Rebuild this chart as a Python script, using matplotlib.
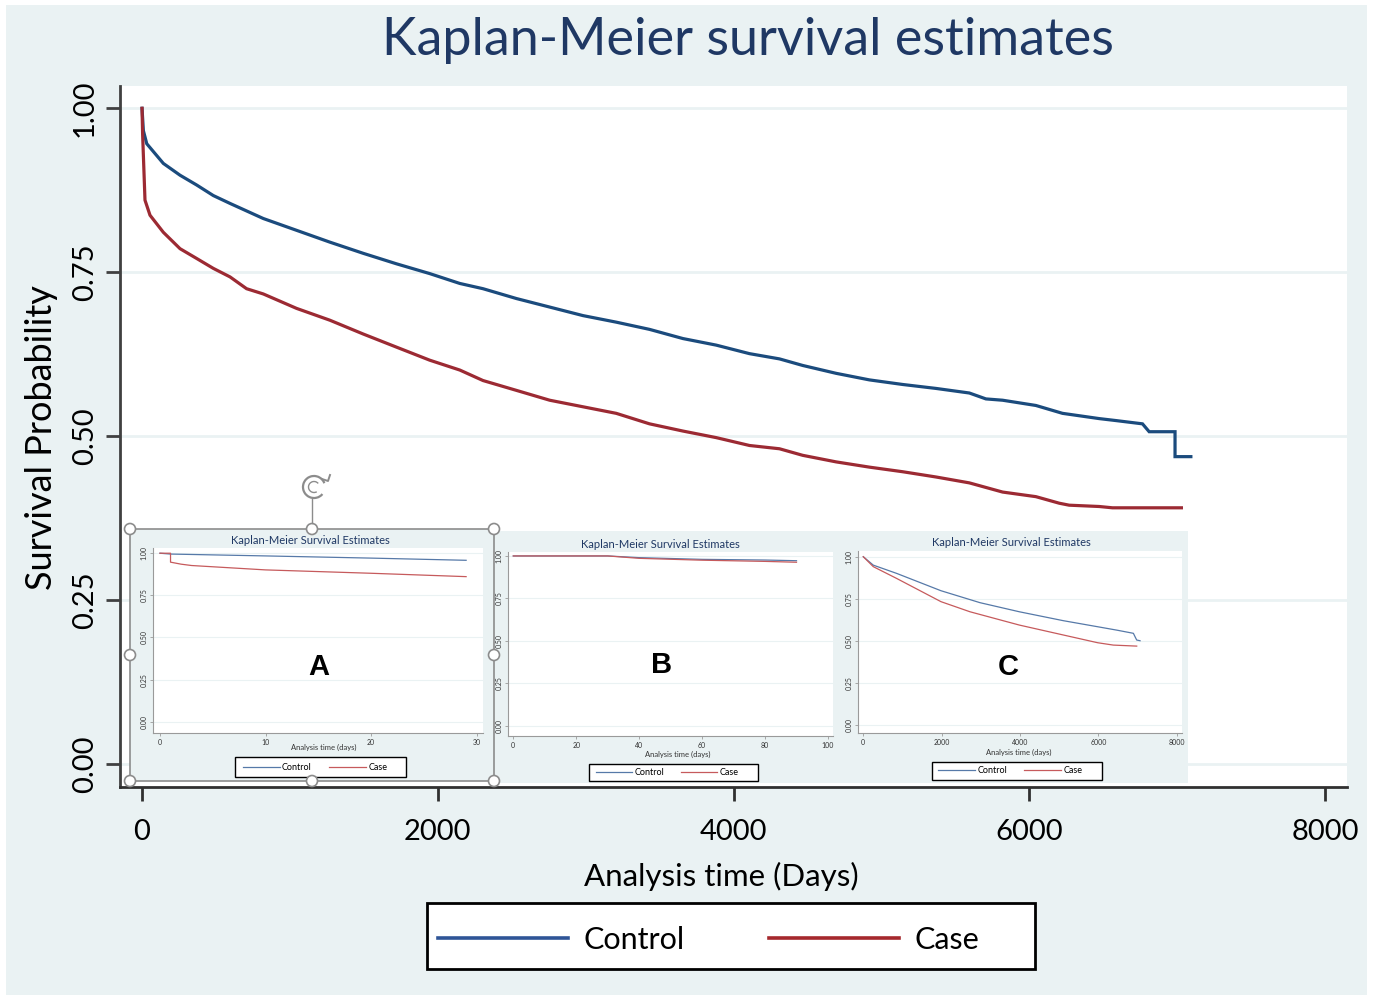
import matplotlib
matplotlib.use("Agg")
import matplotlib.pyplot as plt
from matplotlib.patches import Rectangle, Circle, Arc
from matplotlib.lines import Line2D

plt.rcParams['font.family'] = ['Lato', 'DejaVu Sans']

# ---------------- data ----------------
control_days = [0, 9, 32, 144, 257, 370, 482, 595, 820, 1045, 1270, 1495, 1720, 1946,
                2149, 2306, 2532, 2757, 2982, 3207, 3432, 3658, 3883, 4108, 4311, 4468,
                4694, 4919, 5144, 5369, 5595, 5707, 5820, 6045, 6225, 6473, 6586, 6766,
                6811, 6986, 6986, 7093]
control_surv = [1.0, 0.966, 0.946, 0.916, 0.898, 0.883, 0.867, 0.855, 0.832, 0.814,
                0.796, 0.779, 0.763, 0.748, 0.733, 0.725, 0.710, 0.697, 0.684, 0.674,
                0.663, 0.649, 0.639, 0.626, 0.618, 0.608, 0.596, 0.586, 0.579, 0.573,
                0.566, 0.557, 0.555, 0.547, 0.535, 0.527, 0.524, 0.519, 0.507, 0.507,
                0.469, 0.469]
case_days = [0, 4, 20, 54, 144, 257, 370, 482, 595, 707, 820, 1045, 1270, 1495, 1720,
             1946, 2149, 2306, 2532, 2757, 2982, 3207, 3432, 3658, 3883, 4108, 4311,
             4468, 4694, 4919, 5144, 5369, 5595, 5820, 6045, 6203, 6270, 6473, 6563, 7029]
case_surv = [1.0, 0.96, 0.860, 0.837, 0.811, 0.786, 0.771, 0.756, 0.743, 0.725, 0.717,
             0.695, 0.677, 0.656, 0.636, 0.616, 0.601, 0.585, 0.570, 0.555, 0.545,
             0.535, 0.519, 0.508, 0.498, 0.486, 0.481, 0.471, 0.461, 0.453, 0.446,
             0.438, 0.429, 0.415, 0.408, 0.398, 0.395, 0.393, 0.391, 0.391]

# inset A (first 30 days)
a_control_days = [0, 1, 10, 20, 29]
a_control_surv = [1.0, 0.995, 0.984, 0.971, 0.958]
a_case_days = [0, 1, 1, 2, 3, 10, 20, 29]
a_case_surv = [1.0, 1.0, 0.947, 0.935, 0.927, 0.901, 0.881, 0.861]

# inset B (up to 90 days)
b_days = [0, 30, 40, 60, 80, 90]
b_control_surv = [1.0, 1.0, 0.990, 0.980, 0.976, 0.972]
b_case_surv = [1.0, 1.0, 0.986, 0.975, 0.968, 0.963]

# inset C (full follow-up)
c_control_days = [0, 255, 851, 1983, 2979, 3983, 5106, 5983, 6468, 6894, 6936, 6979, 7064]
c_control_surv = [1.0, 0.950, 0.901, 0.798, 0.727, 0.673, 0.620, 0.584, 0.564, 0.545,
                  0.525, 0.505, 0.501]
c_case_days = [0, 255, 851, 1983, 2723, 3983, 5106, 5983, 6383, 6979]
c_case_surv = [1.0, 0.941, 0.871, 0.733, 0.673, 0.594, 0.535, 0.489, 0.475, 0.469]

y_ticks = [0.0, 0.25, 0.5, 0.75, 1.0]
y_ticklabels = ["0.00", "0.25", "0.50", "0.75", "1.00"]
main_x_ticks = [0, 2000, 4000, 6000, 8000]
a_x_ticks = [0, 10, 20, 30]
b_x_ticks = [0, 20, 40, 60, 80, 100]
c_x_ticks = [0, 2000, 4000, 6000, 8000]
series_names = ["Control", "Case"]

# ---------------- style ----------------
W, H = 1377, 998
BG = '#EAF2F3'
NAVY = '#1F3864'
C_MAIN = '#1B4B7D'
K_MAIN = '#9C2A33'
C_LEG = '#2F5597'
K_LEG = '#A5282D'
C_IN = '#5679A8'
K_IN = '#C65A5C'


def rect(x0, y0, x1, y1):
    return [x0 / W, 1 - y1 / H, (x1 - x0) / W, (y1 - y0) / H]


fig = plt.figure(figsize=(W / 100, H / 100), dpi=100, facecolor='white')

# background panel
bg = fig.add_axes([0, 0, 1, 1], zorder=0)
bg.set_xlim(0, W); bg.set_ylim(H, 0); bg.axis('off')
bg.add_patch(Rectangle((6, 5), 1361, 990, facecolor=BG, edgecolor='none'))

# ---------------- main axes ----------------
ax = fig.add_axes(rect(120, 86, 1347, 787), zorder=1)
ax.set_facecolor('white')
ax.plot(control_days, control_surv, color=C_MAIN, lw=2.3, solid_joinstyle='miter')
ax.plot(case_days, case_surv, color=K_MAIN, lw=2.3, solid_joinstyle='miter')
ax.set_xlim(-149, 8149)
ax.set_ylim(-0.0346, 1.034)
ax.set_yticks(y_ticks)
ax.set_yticklabels(y_ticklabels)
ax.set_xticks(main_x_ticks)
ax.set_xticklabels([str(t) for t in main_x_ticks])
for yv in y_ticks:
    ax.axhline(yv, color=BG, lw=2, zorder=0)
for s in ['top', 'right']:
    ax.spines[s].set_visible(False)
ax.spines['left'].set_color('#404040'); ax.spines['left'].set_linewidth(2)
ax.spines['bottom'].set_color('#303030'); ax.spines['bottom'].set_linewidth(2)
ax.tick_params(axis='x', length=10, width=2, pad=13, labelsize=21, color='#303030')
ax.tick_params(axis='y', length=10, width=2, pad=6, labelsize=21, labelrotation=90,
               color='#404040')
for lab in ax.get_yticklabels():
    lab.set_va('center')
ax.set_ylabel('Survival Probability', fontsize=26, va='center')
ax.yaxis.set_label_coords((42 - 120) / 1227, (787 - 438) / 701)
ax.set_xlabel('Analysis time (Days)', fontsize=22.5, va='center')
ax.xaxis.set_label_coords((721 - 120) / 1227, (787 - 876) / 701)

fig.text(748 / W, 1 - 40 / H, 'Kaplan-Meier survival estimates', ha='center',
         va='center', fontsize=37.5, color=NAVY)

# main legend
bg.add_patch(Rectangle((427, 903), 608, 66, facecolor='white', edgecolor='black', lw=2))
h1 = Line2D([], [], color=C_LEG, lw=2.6)
h2 = Line2D([], [], color=K_LEG, lw=2.6)
leg = fig.legend([h1, h2], series_names, loc='center left',
                 bbox_to_anchor=(438 / W, 1 - 940 / H), ncol=2, fontsize=22,
                 frameon=False, handlelength=4.25, handletextpad=0.52,
                 columnspacing=2.75, borderpad=0, borderaxespad=0)

# ---------------- inset panels ----------------
panel = fig.add_axes([0, 0, 1, 1], zorder=2)
panel.set_xlim(0, W); panel.set_ylim(H, 0); panel.axis('off')
panel.patch.set_alpha(0)
panel.add_patch(Rectangle((494, 531), 343, 252, facecolor=BG, edgecolor='none'))
panel.add_patch(Rectangle((837, 531), 351, 252, facecolor=BG, edgecolor='none'))
panel.add_patch(Rectangle((130, 529), 364, 252, facecolor=BG, edgecolor='#8C8C8C', lw=1.2))


def make_inset(px, title, title_xy, xlabel_xy, xlim, ylim, xticks, series, legbox, leg_x,
               leg_fs, leg_hl, leg_cs):
    x0, y0, x1, y1 = px
    a = fig.add_axes(rect(x0, y0, x1, y1), zorder=3)
    a.set_facecolor('white')
    for yv in y_ticks:
        a.axhline(yv, color=BG, lw=0.8, zorder=0)
    for xs, ys, col in series:
        a.plot(xs, ys, color=col, lw=0.9)
    a.set_xlim(*xlim); a.set_ylim(*ylim)
    a.set_yticks(y_ticks); a.set_yticklabels(y_ticklabels)
    a.set_xticks(xticks); a.set_xticklabels([str(t) for t in xticks])
    for s in ['top', 'right']:
        a.spines[s].set_visible(False)
    for s in ['left', 'bottom']:
        a.spines[s].set_color('#9A9A9A'); a.spines[s].set_linewidth(0.8)
    a.tick_params(axis='both', length=2.5, width=0.6, labelsize=5, pad=1.5,
                  color='#9A9A9A', labelcolor='#333333')
    a.tick_params(axis='y', labelrotation=90)
    for lab in a.get_yticklabels():
        lab.set_va('center')
    a.set_xlabel('Analysis time (days)', fontsize=5.5, color='#333333', va='center')
    a.xaxis.set_label_coords((xlabel_xy[0] - x0) / (x1 - x0),
                             (y1 - xlabel_xy[1]) / (y1 - y0))
    fig.text(title_xy[0] / W, 1 - title_xy[1] / H, title, ha='center', va='center',
             fontsize=8, color=NAVY, zorder=4)
    bx0, by0, bx1, by1 = legbox
    panel.add_patch(Rectangle((bx0, by0), bx1 - bx0, by1 - by0, facecolor='white',
                              edgecolor='black', lw=1.0))
    hh = [Line2D([], [], color=C_IN, lw=0.9), Line2D([], [], color=K_IN, lw=0.9)]
    lg = fig.legend(hh, series_names, loc='center left',
                    bbox_to_anchor=(leg_x / W, 1 - (by0 + by1) / 2 / H), ncol=2,
                    fontsize=leg_fs, frameon=False, handlelength=leg_hl,
                    handletextpad=0.25, columnspacing=leg_cs, borderpad=0,
                    borderaxespad=0)
    lg.set_zorder(5)
    return a


make_inset((153, 548, 483, 733.3), 'Kaplan-Meier Survival Estimates', (310.7, 540.7),
           (323.7, 747), (-0.66, 30.6), (-0.069, 1.031), a_x_ticks,
           [(a_control_days, a_control_surv, C_IN), (a_case_days, a_case_surv, K_IN)],
           (235, 757.3, 406, 777.3), 242.7, 6.5, 4.1, 1.9)
make_inset((508, 551.7, 833, 736), 'Kaplan-Meier Survival Estimates', (660, 544),
           (678, 754), (-1.68, 101.6), (-0.059, 1.025), b_x_ticks,
           [(b_days, b_control_surv, C_IN), (b_days, b_case_surv, K_IN)],
           (589, 764.3, 758.3, 781), 596, 6.5, 4.0, 1.9)
make_inset((858, 551, 1182, 733.3), 'Kaplan-Meier Survival Estimates', (1011.7, 542.7),
           (1019, 752.7), (-135, 8135), (-0.049, 1.034), c_x_ticks,
           [(c_control_days, c_control_surv, C_IN), (c_case_days, c_case_surv, K_IN)],
           (931.7, 761.7, 1102.3, 780), 938.3, 6.5, 4.1, 1.9)

# ---------------- overlay: letters and selection handles ----------------
top = fig.add_axes([0, 0, 1, 1], zorder=6)
top.set_xlim(0, W); top.set_ylim(H, 0); top.axis('off')
top.patch.set_alpha(0)
for txt, (lx, ly) in zip(['A', 'B', 'C'], [(319, 667), (661.7, 665), (1008.3, 667)]):
    top.text(lx, ly, txt, ha='center', va='center', fontsize=21, fontweight='bold',
             family=['Liberation Sans', 'DejaVu Sans'], color='black')
top.plot([312, 312], [499, 523], color='#8C8C8C', lw=1.0)
for cx, cy in [(130, 529), (312, 529), (494, 529), (130, 655), (494, 655),
               (130, 781), (312, 781), (494, 781)]:
    top.add_patch(Circle((cx, cy), 5.5, facecolor='white', edgecolor='#8C8C8C', lw=1.2))
top.add_patch(Arc((314, 487), 22, 22, theta1=40, theta2=340, color='#8C8C8C', lw=1.6))
top.add_patch(Arc((314, 487), 11, 11, theta1=60, theta2=320, color='#8C8C8C', lw=1.0))
top.plot([322, 328, 330], [479, 481, 475], color='#8C8C8C', lw=1.4)

fig.savefig('out.png', dpi=100, facecolor='white')
